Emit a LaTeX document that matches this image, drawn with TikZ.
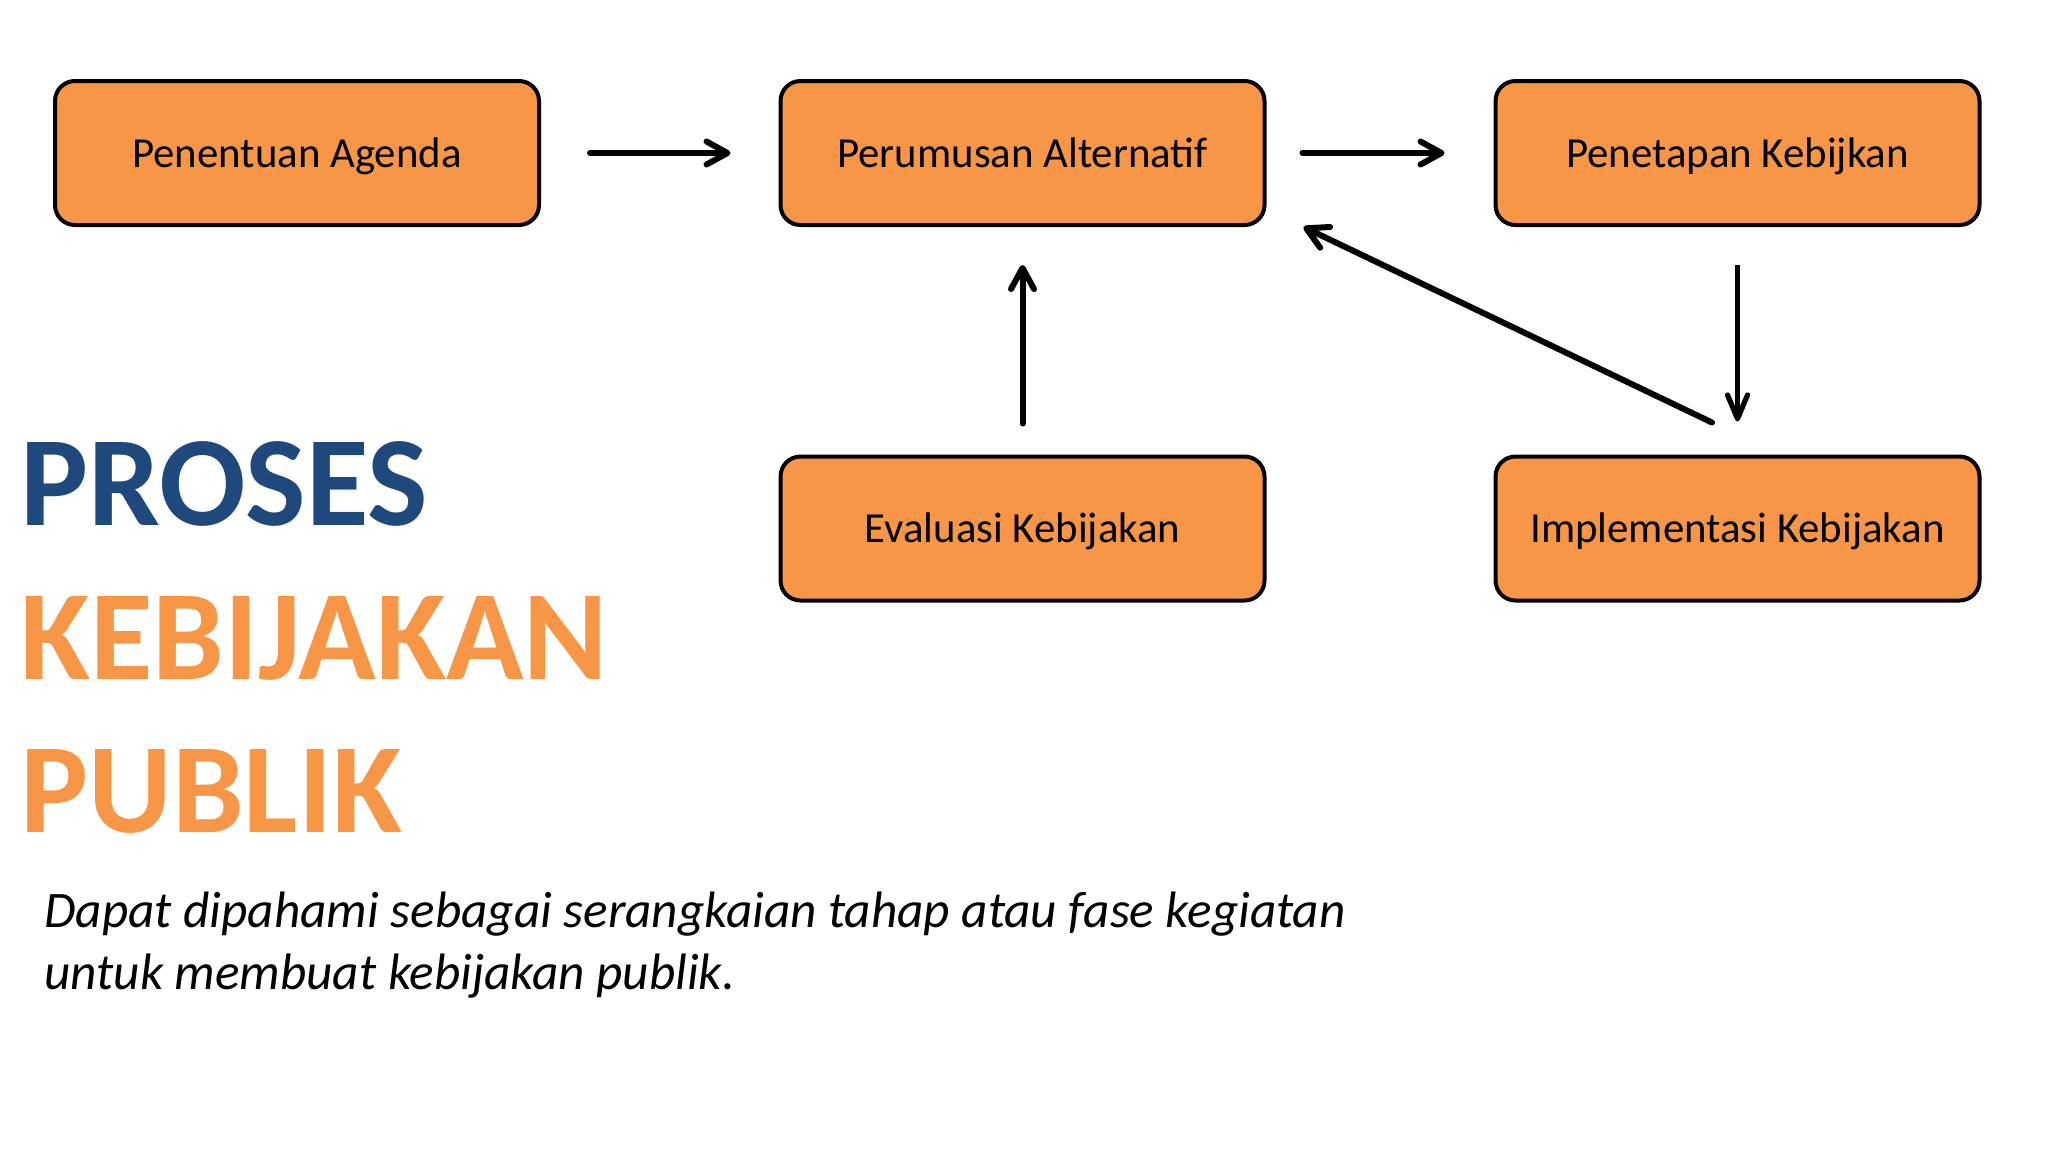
\documentclass[tikz,border=0pt]{standalone}
\usepackage{fontspec}
\setmainfont{Carlito}
\usetikzlibrary{arrows.meta,calc}
\definecolor{boxorange}{HTML}{F79646}
\definecolor{titleblue}{HTML}{1F497D}
\begin{document}
\begin{tikzpicture}[x=0.5pt,y=-0.5pt,
  stage/.style={draw=black, line width=2pt, fill=boxorange, rounded corners=10pt,
    minimum width=242pt, minimum height=72pt, inner sep=0pt,
    text height=17pt, text depth=3pt,
    font=\fontsize{21.4}{25}\selectfont},
  flow/.style={line width=3pt, line cap=round,
    -{Straight Barb[length=10.5pt,width=11.5pt,round]}},
  downflow/.style={line width=2.6pt,
    -{Straight Barb[length=12pt,width=10pt,round]}},
  headline/.style={anchor=base west, inner sep=0pt, font=\fontsize{64}{70}\selectfont\bfseries},
  desc/.style={anchor=base west, inner sep=0pt, font=\fontsize{25.6}{31}\selectfont\itshape}
]
\useasboundingbox[fill=white] (0,0) rectangle (2048,1153);

\node[stage] (b1) at (297,153) {Penentuan Agenda};
\node[stage] (b2) at (1022.5,153) {Perumusan Alternatif};
\node[stage] (b3) at (1737.5,153) {Penetapan Kebijkan};
\node[stage] (b4) at (1022.5,528.5) {Evaluasi Kebijakan};
\node[stage] (b5) at (1737.5,528.5) {Implementasi Kebijakan};

\draw[flow, shorten <=24.5pt, shorten >=24pt] (b1.east) -- (b2.west);
\draw[flow, shorten <=18pt, shorten >=24.5pt] (b2.east) -- (b3.west);
\draw[flow, shorten <=15.5pt, shorten >=19pt] (b4.north) -- (b2.south);
\draw[downflow, shorten <=19pt, shorten >=16.5pt] (b3.south) -- (b5.north);
\coordinate (d1) at ($(b5.north)+(-25.5,-32)$);
\coordinate (d2) at ($(b2.south east)+(37,0)$);
\draw[flow] (d1) -- (d2);

\node[headline, text=titleblue] (t1) at (20,525) {PROSES};
\node[headline, text=boxorange] (t2) at (20,679) {KEBIJAKAN};
\node[headline, text=boxorange] (t3) at (20,832) {PUBLIK};

\node[desc] (l1) at (44,927) {Dapat dipahami sebagai serangkaian tahap atau fase kegiatan};
\node[desc] (l2) at (44,989) {untuk membuat kebijakan publik.};
\end{tikzpicture}
\end{document}
